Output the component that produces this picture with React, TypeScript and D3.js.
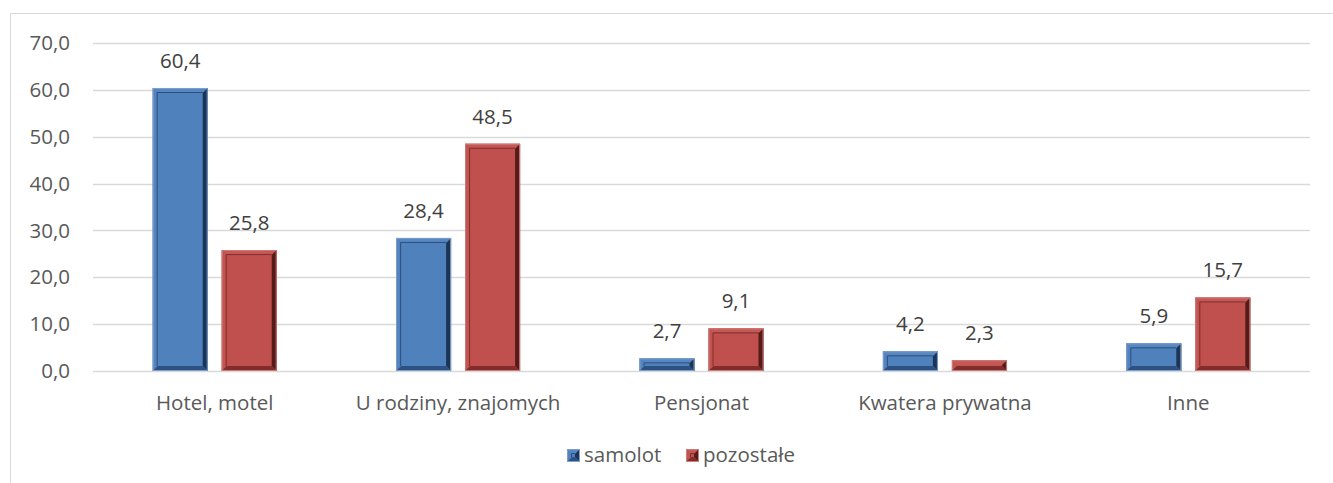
import { useMemo } from "react";
import * as d3 from "d3";

const categories = ["Hotel, motel", "U rodziny, znajomych", "Pensjonat", "Kwatera prywatna", "Inne"];
const seriesNames = ["samolot", "pozostałe"];
const samolot = [60.4, 28.4, 2.7, 4.2, 5.9];
const pozostale = [25.8, 48.5, 9.1, 2.3, 15.7];
const yTicks = [0, 10, 20, 30, 40, 50, 60, 70];

const W = 1333;
const H = 483;
const FONT = "'Open Sans', 'DejaVu Sans', sans-serif";
const FS = 20.5;

// colours for the bevelled bars
const palette = [
  { base: "#4f81bd", top: "#5787c1", left: "#5283be", right: "#1c3556", bottom: "#2d5183", inner: "#2c4f7e", edge: "#7d9fcb" },
  { base: "#c0504d", top: "#c55854", left: "#c2534f", right: "#551b19", bottom: "#822d2b", inner: "#7e2c2a", edge: "#cc7c79" },
];

const fmt = (v: number) => v.toFixed(1).replace(".", ",");

function Bevel({ x, y, w, h, c }: { x: number; y: number; w: number; h: number; c: any }) {
  const b = Math.min(5, h / 2, w / 2);
  const pts = (a: number[][]) => a.map((p) => p.join(",")).join(" ");
  return (
    <g>
      <rect x={x} y={y} width={w} height={h} fill={c.base} />
      <polygon points={pts([[x, y], [x + w, y], [x + w - b, y + b], [x + b, y + b]])} fill={c.top} />
      <polygon points={pts([[x, y], [x + b, y + b], [x + b, y + h - b], [x, y + h]])} fill={c.left} />
      <polygon points={pts([[x + w, y], [x + w, y + h], [x + w - b, y + h - b], [x + w - b, y + b]])} fill={c.right} />
      <polygon points={pts([[x, y + h], [x + w, y + h], [x + w - b, y + h - b], [x + b, y + h - b]])} fill={c.bottom} />
      {h > 2 * b + 1 && (
        <path
          d={`M${x + b - 0.5},${y + h - b} V${y + b - 0.5} H${x + w - b}`}
          fill="none"
          stroke={c.inner}
          strokeWidth={1}
        />
      )}
      <rect x={x + 0.5} y={y + 0.5} width={Math.max(0, w - 1)} height={Math.max(0, h - 1)} fill="none" stroke={c.edge} strokeWidth={1} />
    </g>
  );
}

export default function App() {
  const left = 93;
  const right = 1310;
  const top = 43;
  const bottom = 371;

  const y = useMemo(() => d3.scaleLinear().domain([0, 70]).range([bottom, top]), []);
  const x0 = useMemo(() => d3.scaleBand().domain(categories).range([left, right]).padding(0), []);
  const groupW = 124;
  const x1 = useMemo(
    () => d3.scaleBand().domain(seriesNames).range([0, groupW]).paddingInner(2 - groupW / 69).paddingOuter(0),
    []
  );
  const values = [samolot, pozostale];

  return (
    <svg width={W} height={H} style={{ position: "absolute", left: 0, top: 0 }} fontFamily={FONT}>
      <rect x={0} y={0} width={W} height={H} fill="#fff" />
      <rect x={10.5} y={13.5} width={W + 20} height={H + 20} fill="none" stroke="#d9d9d9" strokeWidth={1} />

      {/* gridlines + y labels */}
      {yTicks.map((t) => (
        <g key={t}>
          <line x1={left} x2={right} y1={Math.round(y(t)) + 0.5} y2={Math.round(y(t)) + 0.5} stroke="#d9d9d9" strokeWidth={1.5} />
          <text x={70} y={y(t)} dy="0.35em" textAnchor="end" fontSize={FS} fill="#595959">
            {fmt(t)}
          </text>
        </g>
      ))}

      {/* bars */}
      {categories.map((cat, i) => {
        const gx = x0(cat)! + x0.bandwidth() / 2 - groupW / 2;
        return (
          <g key={cat}>
            {seriesNames.map((s, j) => {
              const v = values[j][i];
              const bx = gx + x1(s)!;
              const bw = x1.bandwidth();
              const by = y(v);
              return (
                <g key={s}>
                  <Bevel x={bx} y={by} w={bw} h={bottom - by} c={palette[j]} />
                  <text x={bx + bw / 2} y={by - 20} textAnchor="middle" fontSize={FS} fill="#404040">
                    {fmt(v)}
                  </text>
                </g>
              );
            })}
            <text x={x0(cat)! + x0.bandwidth() / 2} y={403} dy="0.35em" textAnchor="middle" fontSize={FS} fill="#595959">
              {cat}
            </text>
          </g>
        );
      })}

      {/* legend */}
      {seriesNames.map((s, j) => {
        const lx = j === 0 ? 567 : 686;
        return (
          <g key={s}>
            <Bevel x={lx} y={449} w={13} h={13} c={palette[j]} />
            <text x={lx + 17} y={455} dy="0.35em" fontSize={FS} fill="#595959">
              {s}
            </text>
          </g>
        );
      })}
    </svg>
  );
}
